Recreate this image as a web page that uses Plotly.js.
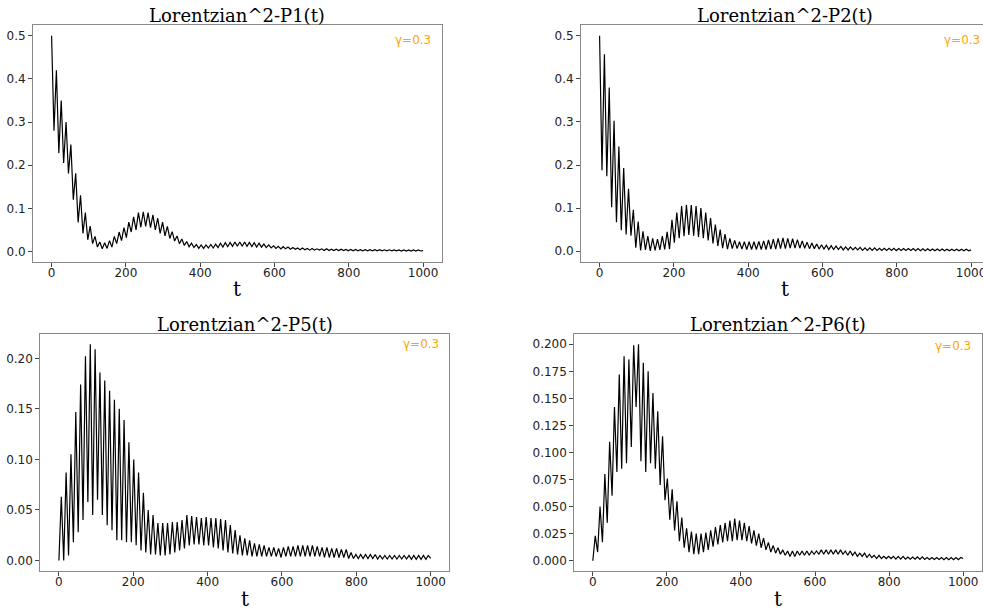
<!DOCTYPE html>
<html>
<head>
<meta charset="utf-8">
<script src="https://cdn.plot.ly/plotly-3.0.1.min.js"></script>
<style>
html,body{margin:0;padding:0;overflow:hidden;background:#fff;width:983px;height:610px}
#chart{width:1000px;height:610px}
</style>
</head>
<body>
<div id="chart"></div>
<script>
// ---- data (alternating extrema, evenly spaced in t from 0 to 1000) ----
const T_START = 0, T_END = 1000;
const xTickValues = [0, 200, 400, 600, 800, 1000];
const panelTitles = ["Lorentzian^2-P1(t)", "Lorentzian^2-P2(t)", "Lorentzian^2-P5(t)", "Lorentzian^2-P6(t)"];
const gammaLabel = "γ=0.3";
const xLabel = "t";

const P1 = [
0.500,0.280,0.420,0.228,0.350,0.205,0.300,0.181,0.248,0.120,
0.181,0.067,0.130,0.042,0.090,0.027,0.059,0.018,0.035,0.010,
0.022,0.006,0.020,0.007,0.025,0.010,0.035,0.018,0.045,0.025,
0.055,0.032,0.068,0.045,0.080,0.050,0.090,0.056,0.092,0.058,
0.090,0.055,0.085,0.050,0.077,0.042,0.068,0.036,0.058,0.030,
0.046,0.024,0.036,0.018,0.029,0.014,0.023,0.011,0.019,0.009,
0.016,0.007,0.015,0.007,0.015,0.008,0.016,0.008,0.017,0.009,
0.019,0.010,0.020,0.011,0.021,0.012,0.022,0.012,0.022,0.012,
0.022,0.012,0.021,0.011,0.020,0.010,0.019,0.010,0.017,0.009,
0.015,0.008,0.013,0.007,0.012,0.006,0.011,0.006,0.010,0.005,
0.009,0.005,0.008,0.004,0.008,0.004,0.007,0.003,0.007,0.003,
0.006,0.003,0.006,0.002,0.006,0.002,0.005,0.002,0.005,0.002,
0.005,0.002,0.0045,0.0015,0.0045,0.0015,0.0045,0.0015,0.004,0.0015,
0.004,0.0015,0.004,0.0015,0.004,0.0012,0.004,0.0012,0.0038,0.0012,
0.0038,0.0012,0.0036,0.0012,0.0036,0.001,0.0035,0.001,0.0035,0.001,
0.0034,0.001,0.0033,0.001,0.002];

const P2 = [
0.500,0.188,0.457,0.174,0.380,0.102,0.303,0.067,0.243,0.049,
0.193,0.039,0.145,0.036,0.096,0.008,0.069,0.002,0.046,0.003,
0.035,0.001,0.030,0.002,0.028,0.003,0.035,0.004,0.045,0.005,
0.073,0.020,0.090,0.030,0.105,0.035,0.108,0.038,0.107,0.036,
0.105,0.033,0.100,0.030,0.090,0.025,0.077,0.018,0.062,0.012,
0.050,0.007,0.040,0.005,0.030,0.006,0.025,0.006,0.022,0.005,
0.022,0.004,0.022,0.004,0.022,0.004,0.023,0.004,0.024,0.004,
0.026,0.005,0.028,0.005,0.030,0.006,0.031,0.006,0.030,0.007,
0.029,0.007,0.027,0.007,0.024,0.007,0.021,0.006,0.019,0.006,
0.017,0.005,0.015,0.005,0.014,0.004,0.013,0.004,0.012,0.004,
0.011,0.003,0.010,0.003,0.010,0.003,0.009,0.003,0.009,0.002,
0.008,0.002,0.008,0.002,0.008,0.002,0.007,0.002,0.007,0.002,
0.007,0.002,0.007,0.0015,0.006,0.0015,0.006,0.0015,0.006,0.0015,
0.006,0.0012,0.006,0.0012,0.0055,0.0012,0.0055,0.001,0.005,0.001,
0.005,0.001,0.005,0.001,0.0048,0.001,0.0048,0.001,0.0045,0.001,
0.0045,0.001,0.0045,0.001,0.003];

const P5 = [
0.000,0.063,0.000,0.087,0.005,0.105,0.018,0.147,0.028,0.174,
0.040,0.202,0.058,0.214,0.045,0.209,0.060,0.186,0.045,0.178,
0.035,0.168,0.030,0.159,0.020,0.150,0.020,0.139,0.018,0.117,
0.018,0.100,0.015,0.087,0.010,0.067,0.008,0.050,0.006,0.045,
0.006,0.037,0.005,0.037,0.005,0.037,0.006,0.038,0.008,0.038,
0.010,0.040,0.012,0.045,0.015,0.044,0.016,0.043,0.016,0.042,
0.015,0.043,0.015,0.042,0.013,0.042,0.012,0.041,0.010,0.040,
0.008,0.035,0.007,0.030,0.006,0.025,0.005,0.022,0.005,0.020,
0.004,0.017,0.004,0.016,0.004,0.015,0.004,0.013,0.004,0.013,
0.004,0.012,0.003,0.013,0.004,0.014,0.004,0.014,0.004,0.015,
0.004,0.015,0.004,0.015,0.004,0.015,0.004,0.014,0.004,0.013,
0.003,0.013,0.003,0.012,0.003,0.012,0.003,0.011,0.003,0.011,
0.002,0.008,0.002,0.006,0.002,0.006,0.002,0.006,0.002,0.006,
0.002,0.006,0.0015,0.005,0.0015,0.005,0.0015,0.005,0.0015,0.005,
0.0015,0.005,0.0015,0.005,0.0015,0.005,0.0012,0.005,0.0012,0.005,
0.0012,0.005,0.0012,0.005,0.002];

const P6 = [
0.000,0.023,0.008,0.050,0.017,0.080,0.035,0.110,0.060,0.142,
0.082,0.172,0.085,0.189,0.090,0.186,0.105,0.199,0.142,0.200,
0.092,0.183,0.082,0.175,0.090,0.155,0.085,0.138,0.070,0.115,
0.056,0.076,0.038,0.066,0.028,0.055,0.018,0.040,0.012,0.030,
0.008,0.027,0.006,0.025,0.006,0.025,0.008,0.026,0.010,0.028,
0.013,0.031,0.015,0.033,0.017,0.035,0.018,0.037,0.018,0.039,
0.019,0.037,0.019,0.035,0.018,0.032,0.016,0.028,0.014,0.025,
0.012,0.021,0.010,0.017,0.008,0.014,0.007,0.012,0.006,0.010,
0.005,0.009,0.004,0.009,0.004,0.009,0.005,0.009,0.005,0.009,
0.005,0.009,0.006,0.009,0.006,0.010,0.006,0.010,0.006,0.010,
0.006,0.010,0.006,0.010,0.006,0.009,0.005,0.009,0.005,0.008,
0.004,0.007,0.004,0.007,0.003,0.006,0.003,0.005,0.002,0.005,
0.002,0.004,0.002,0.004,0.002,0.004,0.0015,0.004,0.0015,0.004,
0.0015,0.0035,0.0015,0.0035,0.0015,0.0035,0.0012,0.0035,0.0012,0.003,
0.0012,0.003,0.0012,0.003,0.0012,0.003,0.001,0.003,0.001,0.003,
0.001,0.003,0.001,0.003,0.002];

const series = [P1, P2, P5, P6];

// ---- layout geometry (paper coordinates for a 1000x610 canvas) ----
const W = 1000, H = 610;
const panels = [
  {xd:[0.033,0.4417],  yd:[0.5705,0.9590], yr:[-0.0245,0.525],  dtick:0.1,   fmt:".1f", titleY:15.5, tY:289,   gRight:432.7, gY:40},
  {xd:[0.581,0.9897],  yd:[0.5705,0.9590], yr:[-0.025,0.525],   dtick:0.1,   fmt:".1f", titleY:15.5, tY:289,   gRight:981.7, gY:40},
  {xd:[0.0403,0.4493], yd:[0.0639,0.4520], yr:[-0.0104,0.2238], dtick:0.05,  fmt:".2f", titleY:324.5, tY:598.5, gRight:440.7, gY:344.3},
  {xd:[0.5743,0.9817], yd:[0.0639,0.4520], yr:[-0.0095,0.2092], dtick:0.025, fmt:".3f", titleY:324.5, tY:598.5, gRight:973.3, gY:345.7}
];

const tickFont = {family:"DejaVu Sans", size:12, color:"#222"};
const traces = [];
const layout = {
  width: W, height: H,
  margin: {l:0, r:0, t:0, b:0},
  paper_bgcolor: "#fff", plot_bgcolor: "#fff",
  showlegend: false,
  annotations: []
};

panels.forEach((p, k) => {
  const s = k === 0 ? "" : String(k + 1);
  const ys = series[k];
  traces.push({
    type: "scatter", mode: "lines",
    x0: T_START, dx: (T_END - T_START) / (ys.length - 1),
    y: ys,
    xaxis: "x" + s, yaxis: "y" + s,
    line: {color: "#000", width: 1.2},
    hoverinfo: "skip"
  });
  layout["xaxis" + s] = {
    domain: p.xd, anchor: "y" + s, range: [-50, 1050],
    tickmode: "array", tickvals: xTickValues,
    ticks: "outside", ticklen: 4, tickwidth: 1, tickcolor: "#444",
    ticklabelstandoff: -4,
    showline: true, mirror: true, linecolor: "#888", linewidth: 1,
    showgrid: false, zeroline: false, tickfont: tickFont
  };
  layout["yaxis" + s] = {
    domain: p.yd, anchor: "x" + s, range: p.yr,
    tick0: 0, dtick: p.dtick, tickformat: p.fmt,
    ticks: "outside", ticklen: 4, tickwidth: 1, tickcolor: "#444",
    showline: true, mirror: true, linecolor: "#888", linewidth: 1,
    showgrid: false, zeroline: false, tickfont: tickFont
  };
  const cx = (p.xd[0] + p.xd[1]) / 2;
  layout.annotations.push({
    xref: "paper", yref: "paper", x: cx, y: 1 - p.titleY / H,
    xanchor: "center", yanchor: "middle", showarrow: false,
    text: panelTitles[k], font: {family: "DejaVu Serif", size: 18, color: "#000"}
  });
  layout.annotations.push({
    xref: "paper", yref: "paper", x: cx, y: 1 - p.tY / H,
    xanchor: "center", yanchor: "middle", showarrow: false,
    text: xLabel, font: {family: "DejaVu Serif", size: 20, color: "#000"}
  });
  layout.annotations.push({
    xref: "paper", yref: "paper", x: p.gRight / W, y: 1 - p.gY / H,
    xanchor: "right", yanchor: "middle", showarrow: false,
    text: gammaLabel, font: {family: "DejaVu Sans", size: 12, color: "#FFA500"}
  });
});

Plotly.newPlot("chart", traces, layout, {staticPlot: true, displayModeBar: false});
</script>
</body>
</html>
